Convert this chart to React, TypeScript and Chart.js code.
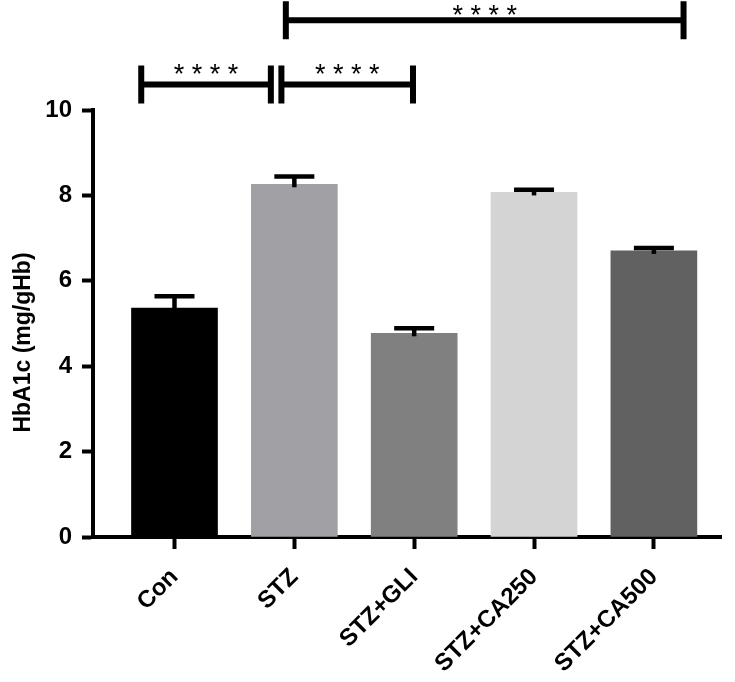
import React, { useEffect, useRef } from "react";
import { Chart, registerables } from "chart.js";

Chart.register(...registerables);

// ---- data ----
const categories = ["Con", "STZ", "STZ+GLI", "STZ+CA250", "STZ+CA500"];
const means = [5.36, 8.26, 4.77, 8.07, 6.7];
const errors = [0.28, 0.18, 0.12, 0.06, 0.07];
const barColors = ["#000000", "#a1a0a5", "#808080", "#d4d4d4", "#616161"];
const yTickStep = 2;
const yMin = 0;
const yMax = 10;
const yTitle = "HbA1c (mg/gHb)";

// significance brackets (x in category units, y in axis units)
const bracketFrom = [-0.2775, 0.892, 0.929];
const bracketTo = [0.804, 1.99, 4.2475];
const bracketY = [10.6, 10.6, 12.1];
const bracketLabels = ["* * * *", "* * * *", "* * * *"];
const bracketLabelLift = [1, 1, -4];

const FONT = "'Liberation Sans', Arial, Helvetica, sans-serif";

const errorBarPlugin = {
  id: "errorBars",
  afterDatasetsDraw(chart: any) {
    const ctx = chart.ctx;
    const yScale = chart.scales.y;
    const meta = chart.getDatasetMeta(0);
    ctx.save();
    ctx.strokeStyle = "#000";
    ctx.lineWidth = 4.5;
    ctx.lineCap = "butt";
    meta.data.forEach((bar: any, i: number) => {
      const x = bar.x;
      const yTop = yScale.getPixelForValue(means[i] + errors[i]);
      const yBar = bar.y;
      ctx.beginPath();
      ctx.moveTo(x, yBar + 3);
      ctx.lineTo(x, yTop);
      ctx.stroke();
      ctx.beginPath();
      ctx.moveTo(x - 20, yTop);
      ctx.lineTo(x + 20, yTop);
      ctx.stroke();
    });
    ctx.restore();
  },
};

const bracketPlugin = {
  id: "brackets",
  afterDraw(chart: any) {
    const ctx = chart.ctx;
    const xs = chart.scales.x;
    const ys = chart.scales.y;
    ctx.save();
    ctx.strokeStyle = "#000";
    ctx.fillStyle = "#000";
    ctx.lineWidth = 6;
    ctx.lineCap = "butt";
    for (let i = 0; i < bracketFrom.length; i++) {
      const x1 = xs.getPixelForValue(bracketFrom[i]);
      const x2 = xs.getPixelForValue(bracketTo[i]);
      const y = ys.getPixelForValue(bracketY[i]);
      ctx.beginPath();
      ctx.moveTo(x1, y);
      ctx.lineTo(x2, y);
      ctx.moveTo(x1, y - 19);
      ctx.lineTo(x1, y + 19);
      ctx.moveTo(x2, y - 19);
      ctx.lineTo(x2, y + 19);
      ctx.stroke();
      ctx.font = `27px ${FONT}`;
      ctx.textAlign = "center";
      ctx.textBaseline = "alphabetic";
      ctx.fillText(bracketLabels[i], (x1 + x2) / 2, y - bracketLabelLift[i]);
    }
    ctx.restore();
  },
};

const yTitlePlugin = {
  id: "yTitle",
  afterDraw(chart: any) {
    const ctx = chart.ctx;
    const ys = chart.scales.y;
    const cy = (ys.top + ys.bottom) / 2 + 19;
    ctx.save();
    ctx.translate(24, cy);
    ctx.rotate(-Math.PI / 2);
    ctx.font = `bold 23px ${FONT}`;
    ctx.fillStyle = "#000";
    ctx.textAlign = "center";
    ctx.textBaseline = "middle";
    ctx.fillText(yTitle, 0, 0);
    ctx.restore();
  },
};

export default function App() {
  const canvasRef = useRef<HTMLCanvasElement | null>(null);

  useEffect(() => {
    if (!canvasRef.current) return;
    const chart = new Chart(canvasRef.current, {
      type: "bar",
      data: {
        datasets: [
          {
            data: means.map((v, i) => ({ x: i, y: v })),
            backgroundColor: barColors,
            borderWidth: 0,
            barThickness: 86,
          },
        ],
      },
      options: {
        animation: false,
        responsive: false,
        devicePixelRatio: 1,
        layout: { padding: { top: 110, right: 14, left: 0, bottom: 0 } },
        plugins: {
          legend: { display: false },
          tooltip: { enabled: false },
        },
        scales: {
          x: {
            type: "linear",
            min: -0.68,
            max: 4.56,
            offset: false,
            afterBuildTicks: (scale: any) => {
              scale.ticks = categories.map((_, i) => ({ value: i }));
            },
            afterFit: (scale: any) => {
              scale.height = 145;
            },
            ticks: {
              autoSkip: false,
              maxRotation: 45,
              minRotation: 45,
              padding: 14,
              color: "#000",
              font: { family: FONT, size: 24, weight: "bold" },
              callback: (v: any) => categories[v] ?? "",
            },
            grid: {
              offset: false,
              drawOnChartArea: false,
              drawTicks: true,
              tickLength: 12,
              tickWidth: 4,
              tickColor: "#000",
            },
            border: { display: true, color: "#000", width: 4 },
          },
          y: {
            min: yMin,
            max: yMax,
            afterFit: (scale: any) => {
              scale.width = 93;
            },
            ticks: {
              stepSize: yTickStep,
              padding: 10,
              color: "#000",
              font: { family: FONT, size: 24, weight: "bold" },
            },
            grid: {
              drawOnChartArea: false,
              drawTicks: true,
              tickLength: 11,
              tickWidth: 4,
              tickColor: "#000",
            },
            border: { display: true, color: "#000", width: 4 },
            title: { display: false },
          },
        },
      } as any,
      plugins: [errorBarPlugin, bracketPlugin, yTitlePlugin],
    });
    return () => chart.destroy();
  }, []);

  return (
    <div style={{ position: "fixed", left: 0, top: 0, width: 735, height: 682, background: "#fff" }}>
      <canvas ref={canvasRef} width={735} height={682} />
    </div>
  );
}
